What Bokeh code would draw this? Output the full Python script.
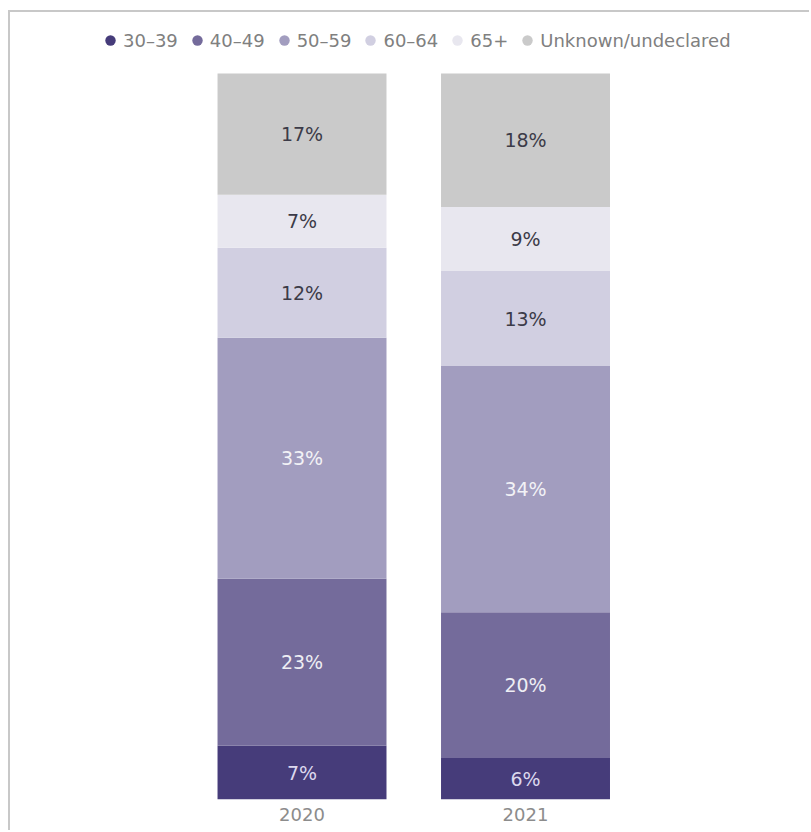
from bokeh.plotting import figure
from bokeh.models import ColumnDataSource, Range1d, Legend, LegendItem, FixedTicker
from bokeh.core.properties import value
from bokeh.embed import file_html
from bokeh.resources import INLINE

years = ["2020", "2021"]
groups = ["30–39", "40–49", "50–59", "60–64", "65+", "Unknown/undeclared"]
keys = ["g3039", "g4049", "g5059", "g6064", "g65", "gunk"]
v_3039 = [7.4, 5.7]
v_4049 = [23.0, 20.1]
v_5059 = [33.2, 33.9]
v_6064 = [12.4, 13.1]
v_65 = [7.3, 8.8]
v_unk = [16.7, 18.4]
colors = ["#463c7a", "#746b9b", "#a29dbf", "#d1cfe1", "#e8e7ef", "#cacaca"]
label_colors = ["#dcd8ee", "#eeeef4", "#f2f2f6", "#3c3b48", "#3c3b48", "#3c3b48"]

series = [v_3039, v_4049, v_5059, v_6064, v_65, v_unk]
xpos = list(range(len(years)))
data = {"x": xpos}
for k, s in zip(keys, series):
    data[k] = s
src = ColumnDataSource(data)

FONT = "DejaVu Sans"

p = figure(width=801, height=820, x_range=Range1d(-1.3043, 2.2796), y_range=Range1d(0, 108.4),
           output_backend="svg", toolbar_location=None, y_axis_location=None,
           min_border_left=0, min_border_right=0, min_border_top=0, min_border_bottom=33,
           styles={"border-left": "2px solid #c8c8c8", "border-top": "2px solid #c8c8c8",
                   "margin-left": "8px", "margin-top": "10px"})
p.outline_line_color = None
p.xgrid.visible = False
p.ygrid.visible = False
p.xaxis.ticker = FixedTicker(ticks=xpos)
p.xaxis.major_label_overrides = dict(zip(xpos, years))
p.xaxis.axis_line_color = None
p.xaxis.major_tick_line_color = None
p.xaxis.minor_tick_line_color = None
p.xaxis.major_label_text_font = FONT
p.xaxis.major_label_text_font_size = "18px"
p.xaxis.major_label_text_color = "#8c8c8c"
p.xaxis.major_label_standoff = 2

p.vbar_stack(keys, x="x", width=0.756, color=colors, source=src, line_color=None)

# segment labels
lx, ly, lt, lc = [], [], [], []
for i, xv in enumerate(xpos):
    base = 0.0
    for j, s in enumerate(series):
        v = s[i]
        lx.append(xv)
        ly.append(base + v / 2)
        lt.append(f"{v:.0f}%")
        lc.append(label_colors[j])
        base += v
lsrc = ColumnDataSource(dict(x=lx, y=ly, t=lt, c=lc))
p.text(x="x", y="y", text="t", text_color="c", source=lsrc, text_align="center",
       text_baseline="middle", text_font=value(FONT), text_font_size="19px")

# legend with dots
items = []
for g, c in zip(groups, colors):
    r = p.scatter(x=[0], y=[-50], marker="circle", size=11, color=c, line_color=None)
    items.append(LegendItem(label=g, renderers=[r]))
legend = Legend(items=items, orientation="horizontal", location=(87, 746),
                label_text_font=FONT, label_text_font_size="18px", label_text_color="#808080",
                glyph_width=26, glyph_height=26, label_standoff=0, spacing=6,
                padding=0, margin=0, border_line_color=None, background_fill_alpha=0)
p.add_layout(legend, "center")

open("out.html", "w").write(file_html(p, INLINE))
